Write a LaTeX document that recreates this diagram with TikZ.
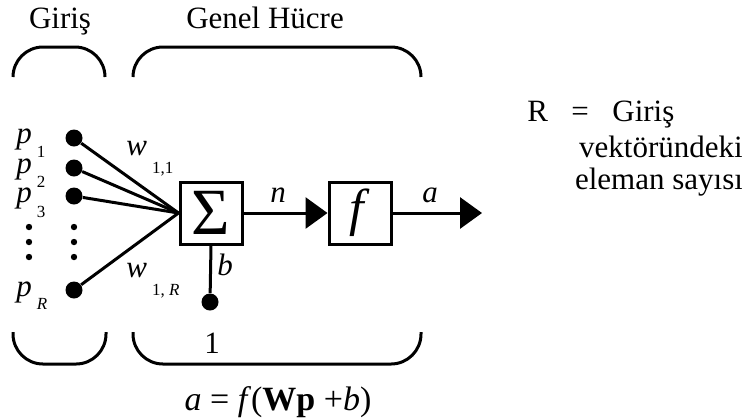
\documentclass[tikz,border=0pt]{standalone}
\usepackage{fontspec}
\setmainfont{Liberation Serif}
\usetikzlibrary{arrows, arrows.meta, positioning}
\tikzstyle{cell} = [rectangle, draw, line width=1.5pt, minimum size=31pt, inner sep=0pt]
\tikzstyle{dot} = [circle, fill, inner sep=0pt, minimum size=8.5pt]
\tikzstyle{wire} = [line width=1.5pt]
\tikzstyle{arrow} = [wire, -{Triangle[length=11pt,width=15.5pt]}]
\tikzstyle{brace} = [line width=1.5pt, rounded corners=15pt]
\tikzstyle{lbl} = [inner sep=0pt]
\newcommand{\lowidx}[2]{\hspace{2.5pt}\raisebox{-#1}{\fontsize{8.5}{9}\selectfont #2}}

\begin{document}
\begin{tikzpicture}[x=0.5pt, y=-0.5pt, node distance=74.5pt, font=\fontsize{15.5}{18}\selectfont]
\useasboundingbox (0,0) rectangle (742,419);

\node (Sum) [cell] at (211,213) {\fontsize{33}{34}\selectfont Σ};

\node (F) [cell, right of=Sum] {\fontsize{26}{27}\selectfont\textit{f}};

\coordinate [right of=F, xshift=-13.5pt] (A);

\node (P1) [dot] at (74,138) {};
\node (P2) [dot] at (74,168) {};
\node (P3) [dot] at (74,196) {};
\node (PR) [dot] at (74,290) {};
\node (B) [dot] at (210,302) {};

\foreach \y in {227,242,257} {
  \fill (29,\y) circle (1.6pt);
  \fill (74,\y) circle (1.6pt);
}

\draw [wire] (P1) -- (Sum.west);
\draw [wire] (P2) -- (Sum.west);
\draw [wire] (P3) -- (Sum.west);
\draw [wire] (PR) -- (Sum.west);
\draw [wire] (Sum.south) -- (B);
\draw [arrow] (Sum) -- (F);
\draw [arrow] (F) -- (A);

\node (Lp1) [lbl, anchor=base west] at (16,143) {\textit{p}\lowidx{7pt}{1}};
\node (Lp2) [lbl, anchor=base west] at (16,173) {\textit{p}\lowidx{7pt}{2}};
\node (Lp3) [lbl, anchor=base west] at (16,202) {\textit{p}\lowidx{7.5pt}{3}};
\node (LpR) [lbl, anchor=base west] at (16,296) {\textit{p}\lowidx{6.5pt}{\textit{R}}};
\node (Lw1) [lbl, anchor=base west] at (126,155) {\textit{w}\lowidx{9pt}{1,1}};
\node (LwR) [lbl, anchor=base west] at (126,277) {\textit{w}\lowidx{9pt}{1, \textit{R}}};
\node (Ln) [lbl] at (278,195) {\textit{n}};
\node (La) [lbl] at (430,195) {\textit{a}};
\node (Lb) [lbl] at (225,265) {\textit{b}};
\node (L1) [lbl] at (212,343) {1};
\node (Eq) [lbl, anchor=base, font=\fontsize{17}{19}\selectfont] at (278,410) {\textit{a} = \textit{f}(\textbf{Wp} +\textit{b})};

\node (In) [lbl, anchor=base] at (60,28) {Giriş};
\node (Cell) [lbl, anchor=base] at (265,28) {Genel Hücre};

\node (Rn) [lbl, anchor=base west] at (527,121) {R};
\node (Req) [lbl, anchor=base] at (580,121) {=};
\node (Rg) [lbl, anchor=base west] at (612,121) {Giriş};
\node (Rd1) [lbl, anchor=base] at (661,157) {vektöründeki};
\node (Rd2) [lbl, anchor=base] at (659,189) {eleman sayısı};

\draw [brace] (13,77) -- (13,47) -- (105,47) -- (105,77);
\draw [brace] (133,77) -- (133,47) -- (421,47) -- (421,77);
\draw [brace] (13,332) -- (13,364) -- (106,364) -- (106,332);
\draw [brace] (133,332) -- (133,364) -- (421,364) -- (421,332);
\end{tikzpicture}
\end{document}
